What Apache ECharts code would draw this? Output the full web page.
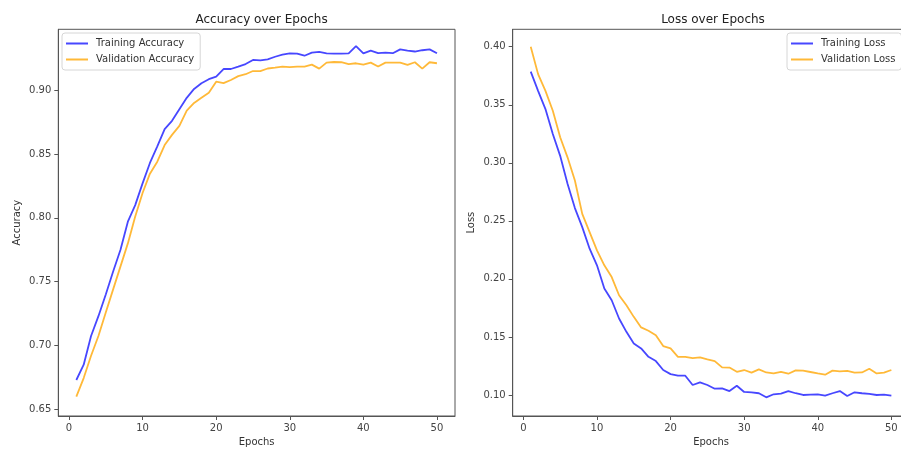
<!DOCTYPE html>
<html>
<head>
<meta charset="utf-8">
<script src="https://cdn.jsdelivr.net/npm/echarts@6/dist/echarts.min.js"></script>
<style>
  html, body { margin: 0; padding: 0; background: #fff; }
  #chart { width: 901px; height: 449px; }
</style>
</head>
<body>
<div id="chart"></div>
<script>
const epochs = Array.from({ length: 50 }, (_, i) => i + 1)

const trainAcc = [
  0.673, 0.685, 0.7075, 0.723, 0.740, 0.758, 0.775, 0.797, 0.810, 0.827,
  0.843, 0.856, 0.8695, 0.876, 0.885, 0.894, 0.901, 0.9055, 0.9086, 0.9106,
  0.9166, 0.9166, 0.9185, 0.9205, 0.9237, 0.9234, 0.9242, 0.9262, 0.9278, 0.9289,
  0.9287, 0.927, 0.9294, 0.930, 0.9289, 0.9287, 0.9287, 0.9289, 0.9346, 0.9289,
  0.931, 0.929, 0.9294, 0.929, 0.932, 0.931, 0.9303, 0.9313, 0.932, 0.9289
]
const valAcc = [
  0.660, 0.6745, 0.692, 0.7075, 0.7258, 0.744, 0.762, 0.780, 0.801, 0.8195,
  0.8346, 0.844, 0.857, 0.865, 0.872, 0.884, 0.890, 0.894, 0.898, 0.9067,
  0.9055, 0.908, 0.911, 0.9125, 0.915, 0.915, 0.917, 0.9177, 0.9185, 0.918,
  0.9185, 0.9185, 0.920, 0.9169, 0.9216, 0.9221, 0.9219, 0.9205, 0.9211, 0.920,
  0.9216, 0.9185, 0.9216, 0.9216, 0.9216, 0.9198, 0.9219, 0.9169, 0.9219, 0.9211
]
const trainLoss = [
  0.3786, 0.362, 0.3463, 0.3248, 0.306, 0.2819, 0.261, 0.2446, 0.226, 0.2117,
  0.1917, 0.1816, 0.1659, 0.1544, 0.1444, 0.1401, 0.1329, 0.1292, 0.1215, 0.118,
  0.1166, 0.1166, 0.1086, 0.1109, 0.1086, 0.1054, 0.1057, 0.1034, 0.108, 0.1026,
  0.1023, 0.1015, 0.098, 0.1006, 0.1012, 0.1034, 0.1015, 0.100, 0.1003, 0.1006,
  0.0994, 0.1015, 0.1034, 0.0991, 0.1023, 0.1015, 0.1009, 0.100, 0.1003, 0.0994
]
const valLoss = [
  0.400, 0.3764, 0.362, 0.3448, 0.322, 0.3047, 0.2847, 0.256, 0.2403, 0.2246,
  0.2117, 0.2016, 0.1859, 0.1773, 0.1673, 0.1582, 0.1553, 0.1515, 0.1421, 0.1401,
  0.1329, 0.1329, 0.1318, 0.1324, 0.1307, 0.1292, 0.1238, 0.1236, 0.12, 0.1215,
  0.1192, 0.122, 0.1194, 0.1186, 0.12, 0.1183, 0.1212, 0.121, 0.1198, 0.1186,
  0.1175, 0.121, 0.1204, 0.1207, 0.1192, 0.1194, 0.1226, 0.1186, 0.1192, 0.1215
]

const epochTicks = [0, 10, 20, 30, 40, 50]
const accTicks = [0.65, 0.70, 0.75, 0.80, 0.85, 0.90]
const lossTicks = [0.10, 0.15, 0.20, 0.25, 0.30, 0.35, 0.40]

const FONT = 'DejaVu Sans'
const BLUE = 'rgba(0,0,255,0.72)'
const ORANGE = 'rgba(255,165,0,0.78)'

function pairs(ys) {
  return epochs.map((e, i) => [e, ys[i]])
}

function xAxis(gridIndex) {
  return {
    type: 'value', gridIndex, min: -1.45, max: 52.45,
    name: 'Epochs', nameLocation: 'middle', nameGap: 20,
    nameTextStyle: { fontFamily: FONT, fontSize: 10, color: '#333' },
    axisLine: { show: true, onZero: false, lineStyle: { color: '#555', width: 1 } },
    axisTick: { show: true, length: 4, customValues: epochTicks, lineStyle: { color: '#555' } },
    axisLabel: { customValues: epochTicks, margin: 7, fontFamily: FONT, fontSize: 10, color: '#444' },
    splitLine: { show: false }
  }
}

function yAxis(gridIndex, name, min, max, ticks, nameGap) {
  return {
    type: 'value', gridIndex, min, max,
    name, nameLocation: 'middle', nameGap,
    nameTextStyle: { fontFamily: FONT, fontSize: 10, color: '#333' },
    axisLine: { show: true, onZero: false, lineStyle: { color: '#555', width: 1 } },
    axisTick: { show: true, length: 4, customValues: ticks, lineStyle: { color: '#555' } },
    axisLabel: {
      customValues: ticks, margin: 7, fontFamily: FONT, fontSize: 10, color: '#444',
      formatter: (v) => v.toFixed(2)
    },
    splitLine: { show: false }
  }
}

function lineSeries(name, ys, color, idx) {
  return {
    name, type: 'line', data: pairs(ys), xAxisIndex: idx, yAxisIndex: idx,
    symbol: 'none', smooth: false,
    lineStyle: { color, width: 1.8 }, itemStyle: { color }
  }
}

function legend(left, names) {
  return {
    data: names.map((n) => ({ name: n, icon: 'rect' })),
    orient: 'vertical', left, top: 33,
    itemWidth: 22, itemHeight: 2, itemGap: 3,
    padding: [4, 6, 4, 4],
    backgroundColor: 'rgba(255,255,255,0.85)',
    borderColor: '#d6d6d6', borderWidth: 1, borderRadius: 3,
    textStyle: { fontFamily: FONT, fontSize: 10, color: '#333', padding: [0, 0, 0, 3], lineHeight: 13 }
  }
}

const chart = echarts.init(document.getElementById('chart'), null, { renderer: 'canvas' })
chart.setOption({
  animation: false,
  backgroundColor: '#fff',
  title: [
    { text: 'Accuracy over Epochs', left: 256.6, top: 9, textAlign: 'center',
      textStyle: { fontFamily: FONT, fontSize: 12, fontWeight: 'normal', color: '#222' } },
    { text: 'Loss over Epochs', left: 708, top: 9, textAlign: 'center',
      textStyle: { fontFamily: FONT, fontSize: 12, fontWeight: 'normal', color: '#222' } }
  ],
  grid: [
    { left: 58.3, top: 29.3, width: 396.7, height: 386.7, show: true, borderColor: '#555', borderWidth: 1,
      containLabel: false, outerBoundsMode: 'none' },
    { left: 512.7, top: 29.3, width: 396.7, height: 386.7, show: true, borderColor: '#555', borderWidth: 1,
      containLabel: false, outerBoundsMode: 'none' }
  ],
  legend: [
    legend(62, ['Training Accuracy', 'Validation Accuracy']),
    legend(787, ['Training Loss', 'Validation Loss'])
  ],
  xAxis: [xAxis(0), xAxis(1)],
  yAxis: [
    yAxis(0, 'Accuracy', 0.6448, 0.9477, accTicks, 36),
    yAxis(1, 'Loss', 0.0819, 0.415, lossTicks, 36)
  ],
  series: [
    lineSeries('Training Accuracy', trainAcc, BLUE, 0),
    lineSeries('Validation Accuracy', valAcc, ORANGE, 0),
    lineSeries('Training Loss', trainLoss, BLUE, 1),
    lineSeries('Validation Loss', valLoss, ORANGE, 1)
  ]
})
</script>
</body>
</html>
